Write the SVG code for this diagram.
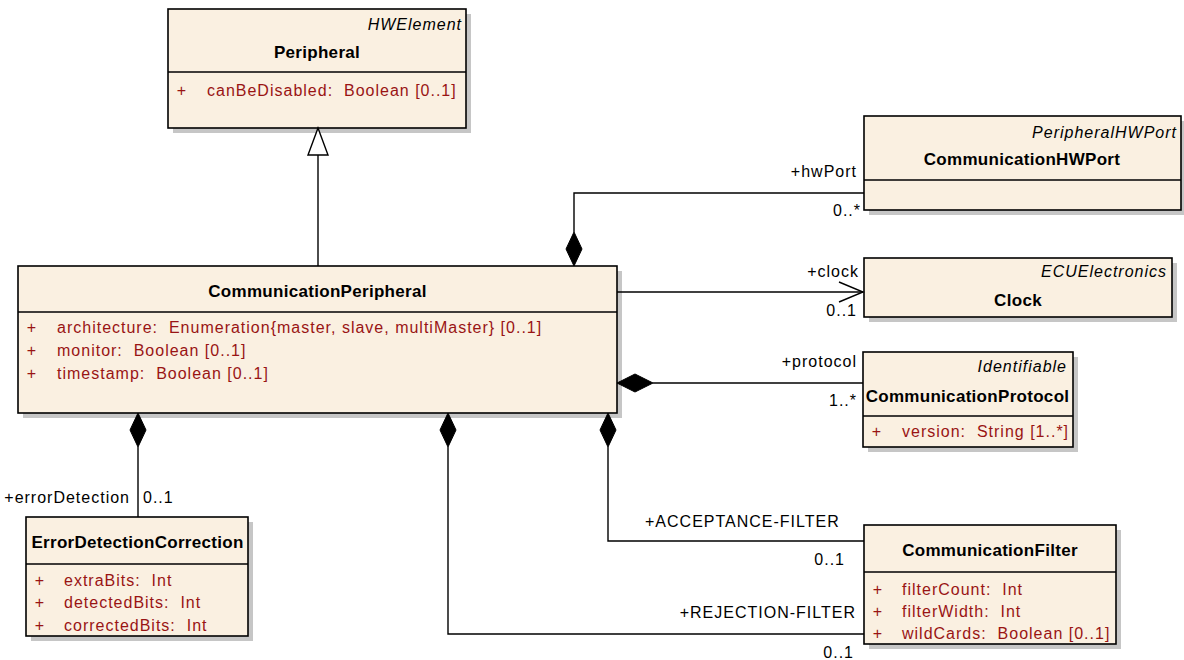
<svg xmlns="http://www.w3.org/2000/svg" width="1184" height="660" viewBox="0 0 1184 660">
<style>
.bg{fill:#FFFFFF}
.sh{fill:#C6C6C6}
.box{fill:#FAF0E1;stroke:#000;stroke-width:1.6}
.div{stroke:#000;stroke-width:1.4}
.t{font-family:"Liberation Sans",Arial,sans-serif;font-size:16px;letter-spacing:1px;fill:#000;white-space:pre}
.b{font-weight:bold;font-size:17px;letter-spacing:0.3px}
.i{font-style:italic}
.a{fill:#991414}
.e{text-anchor:end}
.m{text-anchor:middle}
.ln{fill:none;stroke:#000;stroke-width:1.4}
.dia{fill:#000;stroke:#000;stroke-width:1}
.tri{fill:#FFF;stroke:#000;stroke-width:1.4}
</style>
<rect class="bg" x="0" y="0" width="1184" height="660"/>

<g id="Peripheral">
<rect class="sh" x="173" y="14" width="298" height="119"/>
<rect class="box" x="168" y="9" width="298" height="119"/>
<line class="div" x1="168" y1="72" x2="466" y2="72"/>
<text class="t i e" x="462" y="30">HWElement</text>
<text class="t b m" x="317" y="58">Peripheral</text>
<text class="t a m" x="182" y="96">+</text>
<text class="t a" x="207" y="96">canBeDisabled:  Boolean [0..1]</text>
</g>

<g id="CommunicationHWPort">
<rect class="sh" x="869" y="121" width="317" height="94"/>
<rect class="box" x="864" y="116" width="317" height="94"/>
<line class="div" x1="864" y1="180" x2="1181" y2="180"/>
<text class="t i e" x="1177" y="138">PeripheralHWPort</text>
<text class="t b m" x="1022" y="165">CommunicationHWPort</text>
</g>

<g id="Clock">
<rect class="sh" x="869" y="263" width="308" height="59"/>
<rect class="box" x="864" y="258" width="308" height="59"/>
<text class="t i e" x="1167" y="277">ECUElectronics</text>
<text class="t b m" x="1018" y="306">Clock</text>
</g>

<g id="CommunicationPeripheral">
<rect class="sh" x="23" y="271" width="599" height="147"/>
<rect class="box" x="18" y="266" width="599" height="147"/>
<line class="div" x1="18" y1="312" x2="617" y2="312"/>
<text class="t b m" x="317.5" y="297">CommunicationPeripheral</text>
<text class="t a m" x="32" y="333">+</text>
<text class="t a" x="57" y="333">architecture:  Enumeration{master, slave, multiMaster} [0..1]</text>
<text class="t a m" x="32" y="356">+</text>
<text class="t a" x="57" y="356">monitor:  Boolean [0..1]</text>
<text class="t a m" x="32" y="379">+</text>
<text class="t a" x="57" y="379">timestamp:  Boolean [0..1]</text>
</g>

<g id="CommunicationProtocol">
<rect class="sh" x="868" y="357" width="210" height="95"/>
<rect class="box" x="863" y="352" width="210" height="95"/>
<line class="div" x1="863" y1="416" x2="1073" y2="416"/>
<text class="t i e" x="1067" y="372">Identifiable</text>
<text class="t b m" x="967.5" y="402">CommunicationProtocol</text>
<text class="t a m" x="877" y="437">+</text>
<text class="t a" x="902" y="437">version:  String [1..*]</text>
</g>

<g id="ErrorDetectionCorrection">
<rect class="sh" x="31" y="522" width="222" height="119"/>
<rect class="box" x="26" y="517" width="222" height="119"/>
<line class="div" x1="26" y1="564" x2="248" y2="564"/>
<text class="t b m" x="137.5" y="548">ErrorDetectionCorrection</text>
<text class="t a m" x="40" y="586">+</text>
<text class="t a" x="64" y="586">extraBits:  Int</text>
<text class="t a m" x="40" y="608">+</text>
<text class="t a" x="64" y="608">detectedBits:  Int</text>
<text class="t a m" x="40" y="631">+</text>
<text class="t a" x="64" y="631">correctedBits:  Int</text>
</g>

<g id="CommunicationFilter">
<rect class="sh" x="869" y="530" width="252" height="119"/>
<rect class="box" x="864" y="525" width="252" height="119"/>
<line class="div" x1="864" y1="572" x2="1116" y2="572"/>
<text class="t b m" x="990" y="556">CommunicationFilter</text>
<text class="t a m" x="878" y="595">+</text>
<text class="t a" x="902" y="595">filterCount:  Int</text>
<text class="t a m" x="878" y="617">+</text>
<text class="t a" x="902" y="617">filterWidth:  Int</text>
<text class="t a m" x="878" y="639">+</text>
<text class="t a" x="902" y="639">wildCards:  Boolean [0..1]</text>
</g>

<g id="connectors">
<line class="ln" x1="318" y1="266" x2="318" y2="155"/>
<polygon class="tri" points="318,128 308,155 328,155"/>

<polyline class="ln" points="864,193 574,193 574,232"/>
<polygon class="dia" points="574,266 566,249 574,232 582,249"/>
<text class="t e" x="857" y="177">+hwPort</text>
<text class="t e" x="861" y="216">0..*</text>

<line class="ln" x1="617" y1="292" x2="863" y2="292"/>
<polyline class="ln" points="839,282 863,292 839,302"/>
<text class="t e" x="859" y="277">+clock</text>
<text class="t e" x="857" y="316">0..1</text>

<line class="ln" x1="653" y1="383" x2="863" y2="383"/>
<polygon class="dia" points="617,383 635,374 653,383 635,392"/>
<text class="t e" x="857" y="367">+protocol</text>
<text class="t e" x="857" y="406">1..*</text>

<line class="ln" x1="138" y1="447" x2="138" y2="517"/>
<polygon class="dia" points="138,413 130,430 138,447 146,430"/>
<text class="t e" x="130" y="503">+errorDetection</text>
<text class="t" x="143" y="503">0..1</text>

<polyline class="ln" points="608,447 608,541 864,541"/>
<polygon class="dia" points="608,413 600,430 608,447 616,430"/>
<text class="t" x="645" y="527">+ACCEPTANCE-FILTER</text>
<text class="t e" x="845" y="565">0..1</text>

<polyline class="ln" points="448,447 448,634 864,634"/>
<polygon class="dia" points="448,413 440,430 448,447 456,430"/>
<text class="t e" x="856" y="618">+REJECTION-FILTER</text>
<text class="t e" x="854" y="658">0..1</text>
</g>
</svg>
